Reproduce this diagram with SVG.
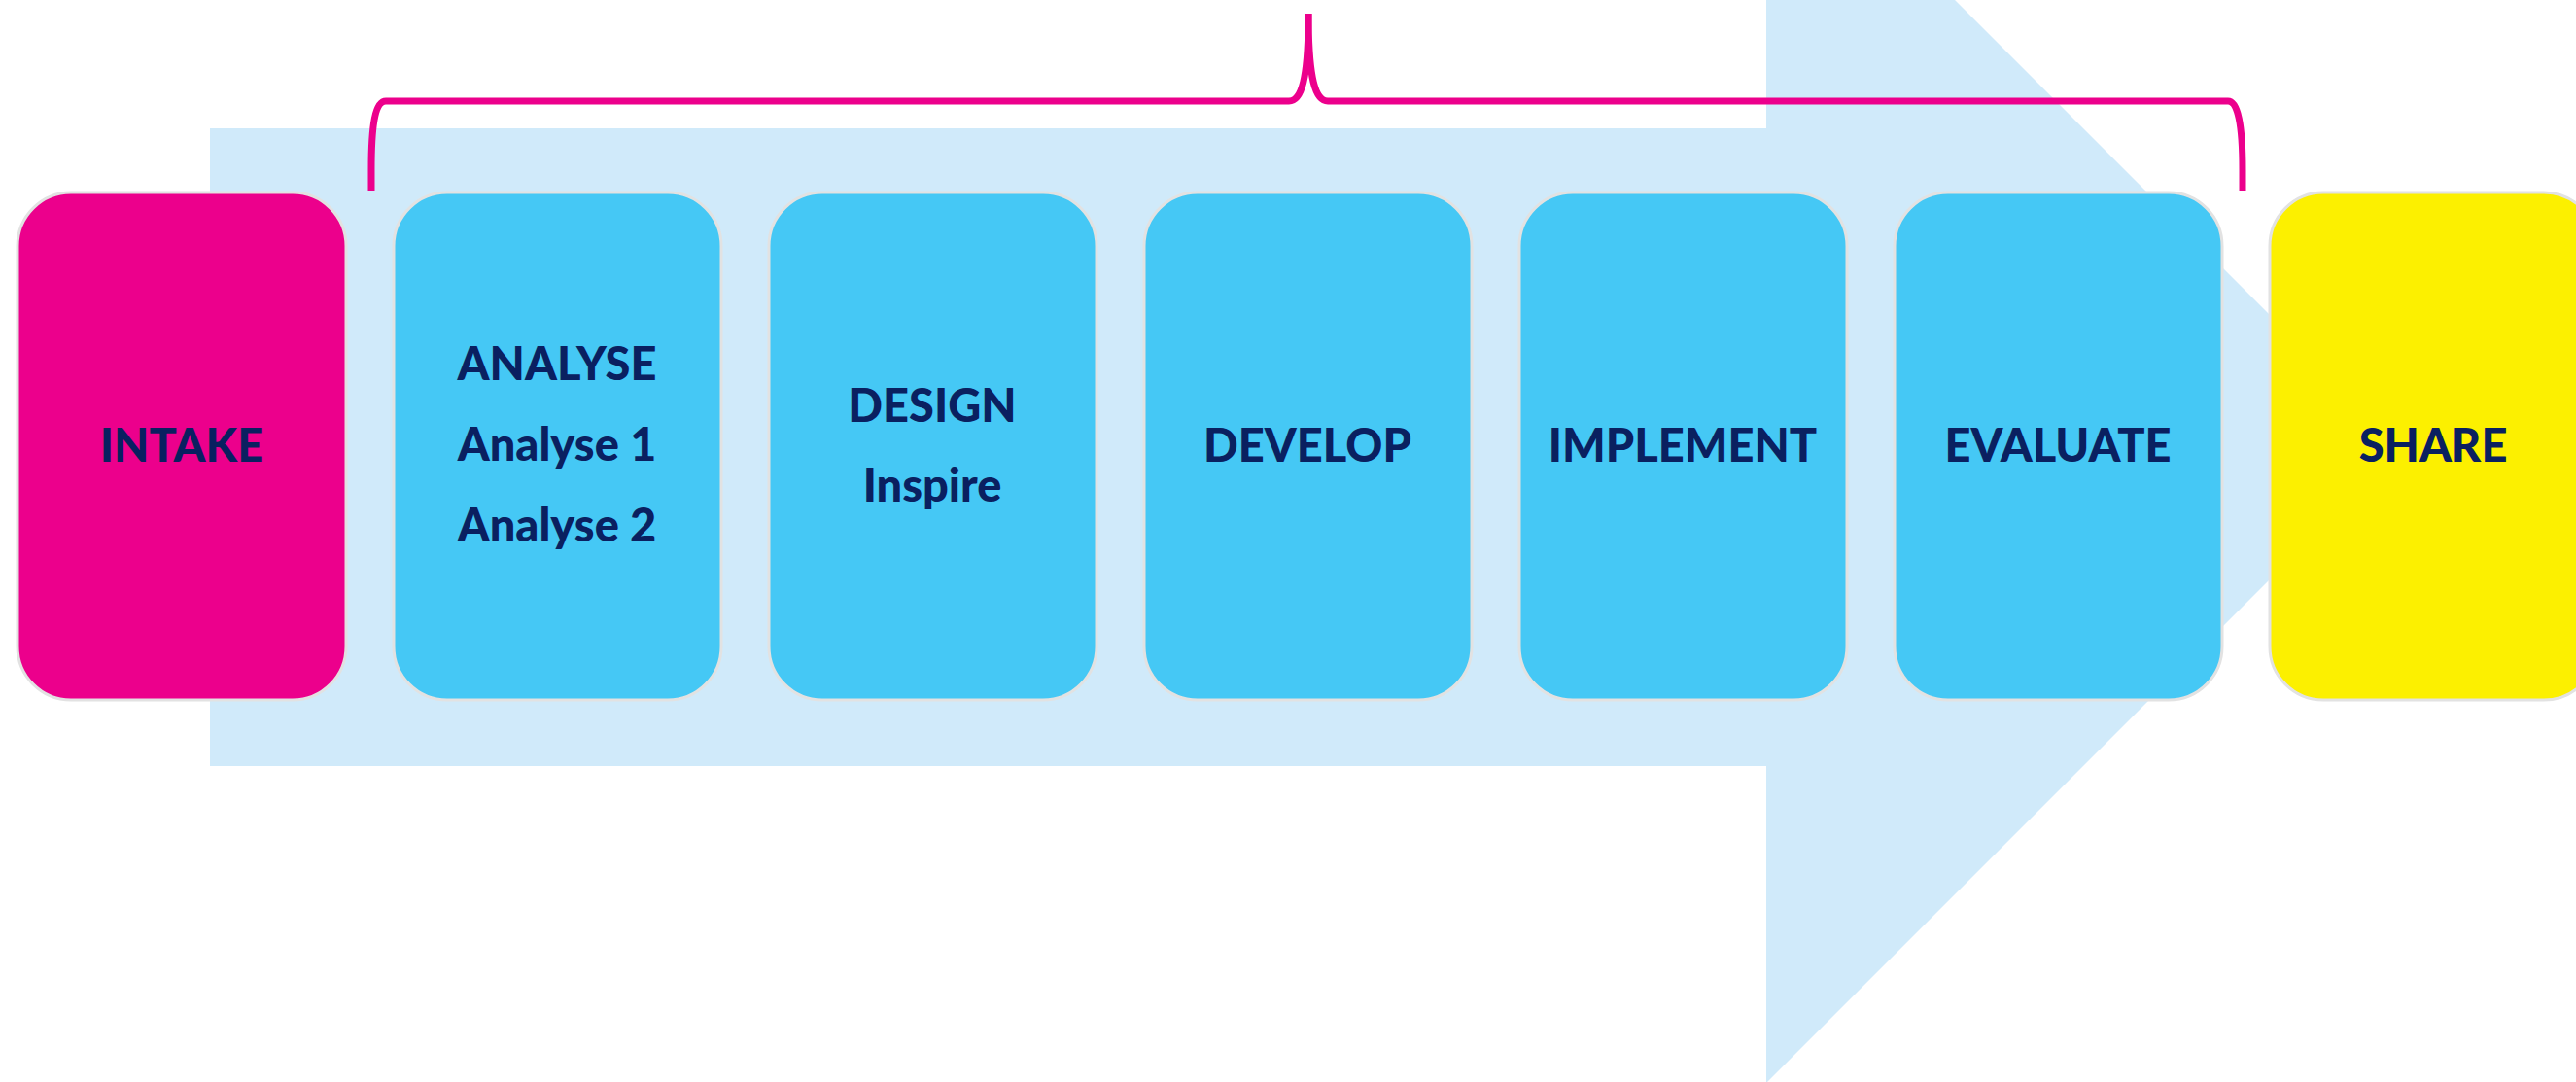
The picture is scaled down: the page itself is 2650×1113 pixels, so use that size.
<svg xmlns="http://www.w3.org/2000/svg" width="2650" height="1113" viewBox="0 0 2650 1113">
<style>
.box{stroke:#E2E2E2;stroke-width:3}
.blue{fill:#45C8F5}
.lbl{font-family:Lato,"Open Sans","Liberation Sans",sans-serif;font-weight:900;font-size:47px;fill:#0A2060;text-anchor:middle}
.brace{fill:none;stroke:#EC008C;stroke-width:7;stroke-linecap:butt;stroke-linejoin:round}
</style>
<rect width="2650" height="1113" fill="#FFFFFF"/>
<g id="arrow">
<polygon points="216,132 1817,132 1817,-194 2471,460 1817,1114 1817,788 216,788" fill="#D0EAFA"/>
</g>
<g id="connectors">
<path class="brace" d="M382,196 L382,175 C382,128 386,104 397,104 L1326,104 C1339,104 1346,82 1346,14"/>
<path class="brace" d="M1346,14 C1346,82 1353,104 1366,104 L2292,104 C2302,104 2307,128 2307,175 L2307,196"/>
</g>
<g id="intake">
<rect class="box" x="18" y="198" width="338" height="522" rx="55" ry="55" fill="#EC008C"/>
<text class="lbl" x="187" y="475">INTAKE</text>
</g>
<g id="analyse">
<rect class="box blue" x="405" y="198" width="337" height="522" rx="55" ry="55"/>
<text class="lbl" x="573" y="391">ANALYSE</text>
<text class="lbl" x="573" y="474">Analyse 1</text>
<text class="lbl" x="573" y="557">Analyse 2</text>
</g>
<g id="design">
<rect class="box blue" x="791" y="198" width="337" height="522" rx="55" ry="55"/>
<text class="lbl" x="959" y="434">DESIGN</text>
<text class="lbl" x="959" y="516">Inspire</text>
</g>
<g id="develop">
<rect class="box blue" x="1177" y="198" width="337" height="522" rx="55" ry="55"/>
<text class="lbl" x="1345" y="475">DEVELOP</text>
</g>
<g id="implement">
<rect class="box blue" x="1563" y="198" width="337" height="522" rx="55" ry="55"/>
<text class="lbl" x="1731" y="475">IMPLEMENT</text>
</g>
<g id="evaluate">
<rect class="box blue" x="1949" y="198" width="337" height="522" rx="55" ry="55"/>
<text class="lbl" x="2117" y="475">EVALUATE</text>
</g>
<g id="share">
<rect class="box" x="2335" y="198" width="337" height="522" rx="55" ry="55" fill="#FCF000"/>
<text class="lbl" x="2503" y="475">SHARE</text>
</g>
</svg>
